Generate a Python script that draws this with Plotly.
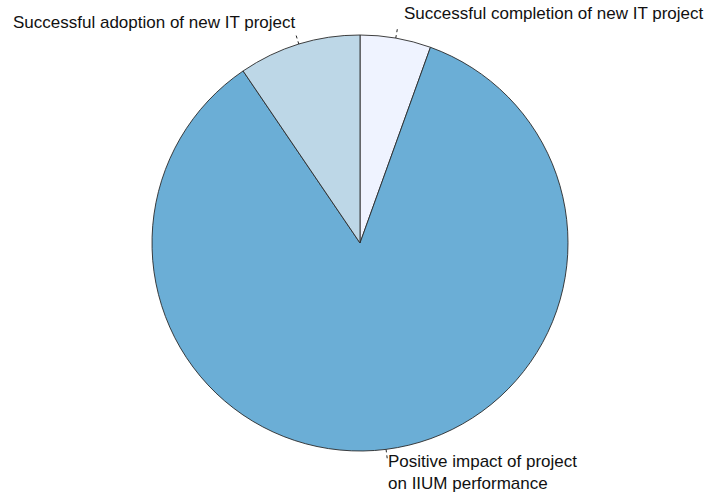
import math
import plotly.graph_objects as go

labels = ["Successful completion of new IT project",
          "Positive impact of project<br>on IIUM performance",
          "Successful adoption of new IT project"]
values = [5.5, 85.0, 9.5]
colors = ["#eff3ff", "#6baed6", "#bdd7e7"]

W, H = 709, 492
cx, cy, R = 360, 243, 208

fig = go.Figure(go.Pie(
    labels=labels, values=values, sort=False, direction="clockwise", rotation=0,
    marker=dict(colors=colors, line=dict(color="#2a2a2a", width=0.9)),
    textinfo="none", hoverinfo="label+value", showlegend=False,
    domain=dict(x=[(cx - R) / W, (cx + R) / W], y=[(H - cy - R) / H, (H - cy + R) / H]),
))

def px(x, y):
    return x / W, 1 - y / H

shapes, annots = [], []
total = sum(values)
cum = 0
label_cfg = [  # (xanchor, dx, dy text offset)
    ("left", 5, -16),
    ("left", -1, 14),
    ("right", 2, -13),
]
for v, lab, (xa, ddx, ddy) in zip(values, labels, label_cfg):
    mid = (cum + v / 2) / total * 2 * math.pi
    cum += v
    sx, sy = cx + R * math.sin(mid), cy - R * math.cos(mid)
    ex, ey = cx + (R + 9) * math.sin(mid), cy - (R + 9) * math.cos(mid)
    x0, y0 = px(sx, sy)
    x1, y1 = px(ex, ey)
    shapes.append(dict(type="line", xref="paper", yref="paper", x0=x0, y0=y0, x1=x1, y1=y1,
                       line=dict(color="#222222", width=1, dash="dot")))
    tx, ty = px(ex + ddx, ey + ddy)
    annots.append(dict(text=lab, x=tx, y=ty, xref="paper", yref="paper", showarrow=False,
                       xanchor=xa, yanchor="middle", align="left",
                       font=dict(family="Arial, Liberation Sans, sans-serif", size=17, color="#111111")))

fig.update_layout(width=W, height=H, margin=dict(l=0, r=0, t=0, b=0),
                  paper_bgcolor="white", plot_bgcolor="white",
                  shapes=shapes, annotations=annots)
fig.write_html("out.html")
